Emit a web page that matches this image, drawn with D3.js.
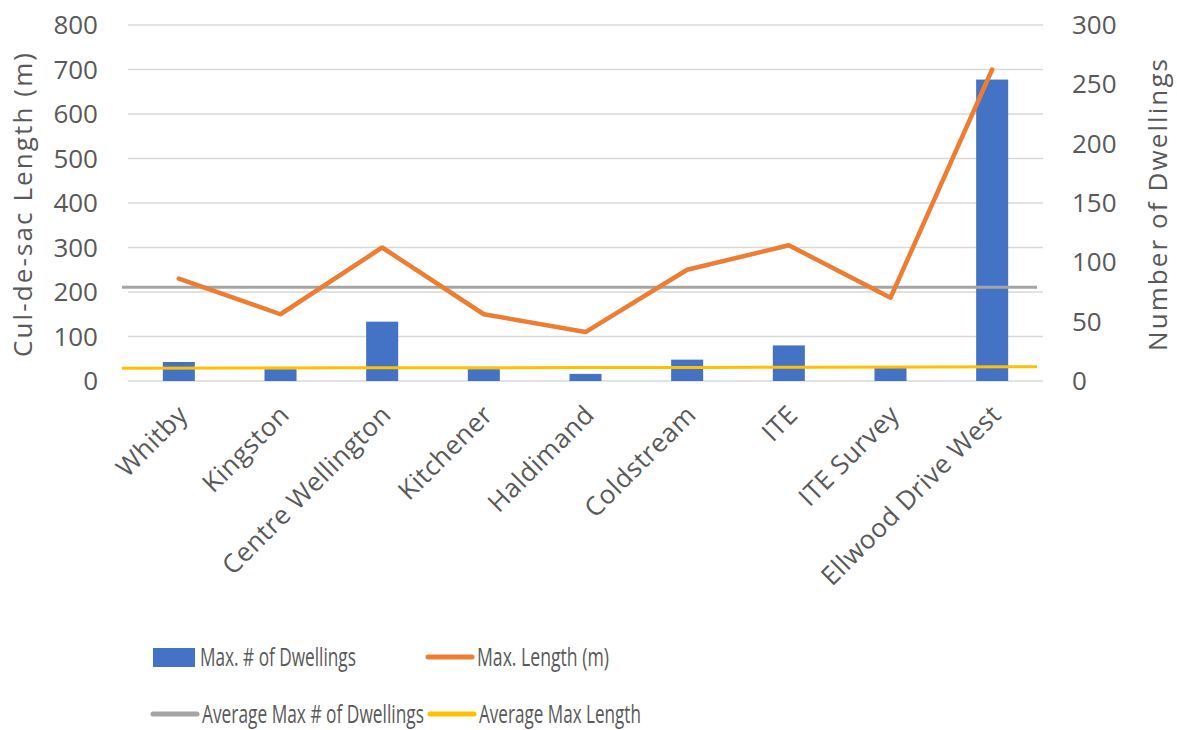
<!DOCTYPE html>
<html>
<head>
<meta charset="utf-8">
<script src="https://cdn.jsdelivr.net/npm/d3@7"></script>
<style>
  body { margin: 0; background: #fff; }
  text { font-family: "Open Sans", sans-serif; fill: #595959; }
</style>
</head>
<body>
<script>
// chart data
let categories = ["Whitby", "Kingston", "Centre Wellington", "Kitchener", "Haldimand",
    "Coldstream", "ITE", "ITE Survey", "Ellwood Drive West"];
let maxDwellings = [16, 10, 50, 10, 6, 18, 30, 12, 254];
let maxLength = [230, 150, 300, 150, 110, 250, 305, 187, 700];
let avgDwellings = [79, 79, 79, 79, 79, 79, 79, 79, 79];
let avgLength = [28.5, 29, 29.5, 29.8, 30.2, 30.6, 31, 31.5, 32];
let leftTicks = [0, 100, 200, 300, 400, 500, 600, 700, 800];
let rightTicks = [0, 50, 100, 150, 200, 250, 300];

function draw() {
    let left = 128, right = 1043, top = 25, bottom = 381;

    let svg = d3.select("body")
        .append("svg")
        .attr("width", 1177)
        .attr("height", 730);

    let x = d3.scaleBand()
        .domain(categories)
        .range([left, right])
        .paddingInner(0.685)
        .paddingOuter(0.3425);
    let xLine = d3.scalePoint()
        .domain(categories)
        .range([122, 1037]);
    let yLeft = d3.scaleLinear().domain([0, 800]).range([bottom, top]);
    let yRight = d3.scaleLinear().domain([0, 300]).range([bottom, top]);
    let cx = d => x(d) + x.bandwidth() / 2;

    // gridlines
    svg.append("g")
        .selectAll("line")
        .data(leftTicks)
        .enter()
        .append("line")
        .attr("x1", left)
        .attr("x2", right)
        .attr("y1", d => yLeft(d))
        .attr("y2", d => yLeft(d))
        .attr("stroke", "#d9d9d9")
        .attr("stroke-width", 1.5);

    // left axis labels
    svg.append("g")
        .selectAll("text")
        .data(leftTicks)
        .enter()
        .append("text")
        .attr("x", 98)
        .attr("y", d => yLeft(d))
        .attr("dy", "0.35em")
        .attr("text-anchor", "end")
        .style("font-size", "26px")
        .text(d => d);

    // right axis labels
    svg.append("g")
        .selectAll("text")
        .data(rightTicks)
        .enter()
        .append("text")
        .attr("x", 1072)
        .attr("y", d => yRight(d))
        .attr("dy", "0.35em")
        .attr("text-anchor", "start")
        .style("font-size", "26px")
        .text(d => d);

    // axis titles
    svg.append("text")
        .attr("transform", "translate(32,205) rotate(-90)")
        .attr("text-anchor", "middle")
        .attr("textLength", 304)
        .attr("lengthAdjust", "spacing")
        .style("font-size", "26px")
        .text("Cul-de-sac Length (m)");
    svg.append("text")
        .attr("transform", "translate(1167,205) rotate(-90)")
        .attr("text-anchor", "middle")
        .attr("textLength", 292)
        .attr("lengthAdjust", "spacing")
        .style("font-size", "26px")
        .text("Number of Dwellings");

    // bars
    svg.append("g")
        .selectAll("rect")
        .data(maxDwellings)
        .enter()
        .append("rect")
        .attr("x", (d, i) => x(categories[i]))
        .attr("width", x.bandwidth())
        .attr("y", d => yRight(d))
        .attr("height", d => bottom - yRight(d))
        .attr("fill", "#4472c4");

    // average lines
    let lineAvgD = d3.line()
        .x((d, i) => xLine(categories[i]))
        .y(d => yRight(d));
    svg.append("path")
        .datum(avgDwellings)
        .attr("d", lineAvgD)
        .attr("fill", "none")
        .attr("stroke", "#a5a5a5")
        .attr("stroke-width", 3);

    let lineAvgL = d3.line()
        .x((d, i) => xLine(categories[i]))
        .y(d => yLeft(d));
    svg.append("path")
        .datum(avgLength)
        .attr("d", lineAvgL)
        .attr("fill", "none")
        .attr("stroke", "#ffc000")
        .attr("stroke-width", 3);

    // max length line
    let lineLen = d3.line()
        .x((d, i) => cx(categories[i]))
        .y(d => yLeft(d));
    svg.append("path")
        .datum(maxLength)
        .attr("d", lineLen)
        .attr("fill", "none")
        .attr("stroke", "#ed7d31")
        .attr("stroke-width", 4.5)
        .attr("stroke-linejoin", "round")
        .attr("stroke-linecap", "round");

    // category labels
    svg.append("g")
        .selectAll("text")
        .data(categories)
        .enter()
        .append("text")
        .attr("transform", d => "translate(" + (cx(d) + 4) + ",410) rotate(-45)")
        .attr("text-anchor", "end")
        .attr("dy", "0.35em")
        .style("font-size", "26px")
        .style("letter-spacing", "0.5px")
        .text(d => d);

    // legend (text squeezed horizontally to look like a narrow font)
    let legend = [
        { name: "Max. # of Dwellings", color: "#4472c4", type: "rect", x: 153, y: 657, w: 156 },
        { name: "Max. Length (m)", color: "#ed7d31", type: "line", x: 428, y: 657, w: 132 },
        { name: "Average Max # of Dwellings", color: "#a5a5a5", type: "line", x: 153, y: 714, w: 222 },
        { name: "Average Max Length", color: "#ffc000", type: "line", x: 430, y: 714, w: 162 }
    ];
    let lg = svg.append("g")
        .selectAll("g")
        .data(legend)
        .enter()
        .append("g")
        .attr("transform", d => "translate(" + d.x + "," + d.y + ")");
    lg.filter(d => d.type == "rect")
        .append("rect")
        .attr("x", 0).attr("y", -9)
        .attr("width", 42).attr("height", 19)
        .attr("fill", d => d.color);
    lg.filter(d => d.type == "line")
        .append("line")
        .attr("x1", 0).attr("x2", 44)
        .attr("stroke", d => d.color)
        .attr("stroke-width", 5)
        .attr("stroke-linecap", "round");
    lg.append("text")
        .attr("dy", "0.35em")
        .style("font-size", "25px")
        .text(d => d.name)
        .each(function (d) {
            let len = this.getComputedTextLength();
            let dx = d.type == "rect" ? 47 : 49;
            d3.select(this).attr("transform", "translate(" + dx + ",0) scale(" + (d.w / len) + ",1)");
        });
}

draw();
</script>
</body>
</html>
